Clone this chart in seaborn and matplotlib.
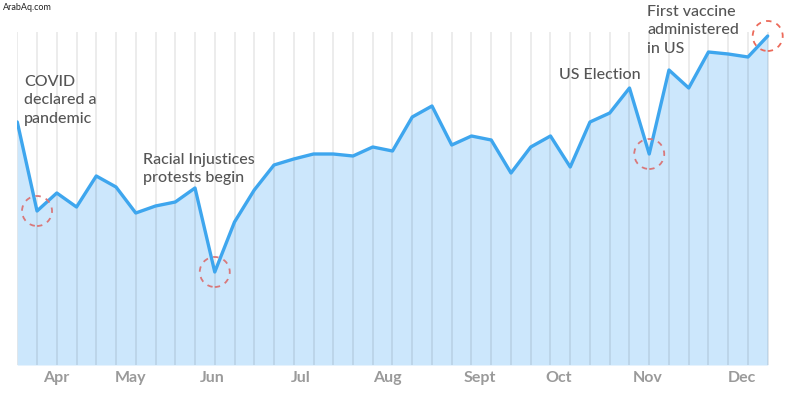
import matplotlib
matplotlib.use("Agg")
import matplotlib.pyplot as plt
import matplotlib.patches as mpatches
import seaborn as sns
import pandas as pd

# weekly index values
weeks = list(range(39))
values = [243, 154, 172, 158, 189, 178, 152, 159, 163, 177,
          93, 143, 175, 200, 206, 211, 211, 209, 218, 214,
          248, 259, 220, 229, 225, 192, 218, 229, 198, 243,
          252, 277, 211, 295, 277, 313, 311, 308, 329]

month_labels = ["Apr", "May", "Jun", "Jul", "Aug", "Sept", "Oct", "Nov", "Dec"]
month_pos = [1.96, 5.76, 9.86, 14.35, 18.75, 23.4, 27.4, 31.9, 36.7]

events = ["COVID\ndeclared a\npandemic", "Racial Injustices\nprotests begin",
          "US Election", "First vaccine\nadministered\nin US"]
event_weeks = [1, 10, 32, 38]

df = pd.DataFrame({"week": weeks, "value": values})

sns.set_theme(style="white")
plt.rcParams["font.family"] = ["Lato", "DejaVu Sans"]

fig = plt.figure(figsize=(8, 4), dpi=100)
ax = fig.add_axes([0.0216, 0.0875, 0.941, 0.8325])

line_color = "#3ea6ee"
fill_color = "#cce7fc"

ax.fill_between(df["week"], df["value"], 0, color=fill_color, lw=0, zorder=1)
for w in weeks:
    ax.axvline(w, color="#000000", alpha=0.09, lw=1.2, zorder=2)
sns.lineplot(data=df, x="week", y="value", color=line_color, lw=2.4, ax=ax, zorder=3)

ax.set_xlim(0, 38.12)
ax.set_ylim(0, 333)
for s in ax.spines.values():
    s.set_visible(False)
ax.set_yticks([])
ax.set_xticks(month_pos)
ax.set_xticklabels(month_labels, color="#9a9a9a", fontsize=11.5, fontweight="bold")
ax.tick_params(axis="x", length=0, pad=4)
ax.set_xlabel("")
ax.set_ylabel("")

# dashed circles around key events
circle_colors = ["#d9787a", "#d9787a", "#d9787a", "#ec6a5a"]
for w, c in zip(event_weeks, circle_colors):
    x_px, y_px = ax.transData.transform((w, values[w]))
    circ = mpatches.Circle((x_px, y_px), 15, transform=None, fill=False,
                           ec=c, lw=1.3, ls=(0, (3, 3)), zorder=4, clip_on=False)
    ax.add_artist(circ)

text_kw = dict(color="#555555", fontsize=11.5, fontweight="medium",
               va="top", ha="left", linespacing=1.4)
fig.text(24 / 800, 1 - 75 / 400, events[0], **text_kw)
fig.text(143 / 800, 1 - 153 / 400, events[1], **text_kw)
fig.text(559 / 800, 1 - 68 / 400, events[2], **text_kw)
fig.text(647 / 800, 1 - 5 / 400, events[3], **text_kw)

fig.text(3 / 800, 1 - 8 / 400, "ArabAq.com", color="#222222", fontsize=6.5,
         va="center", ha="left")

fig.savefig("out.png", dpi=100, facecolor="white")
